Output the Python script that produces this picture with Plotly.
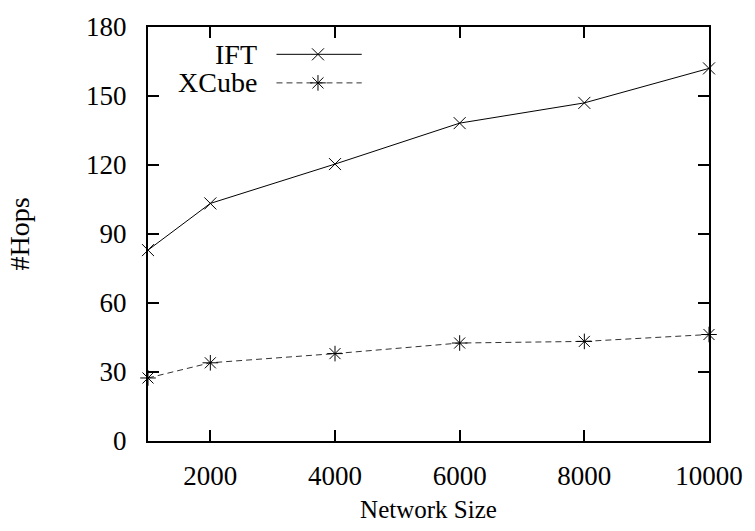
import plotly.graph_objects as go

network_size = [1000, 2000, 4000, 6000, 8000, 10000]
ift_hops = [83, 103.3, 120.4, 138.2, 147, 162]
xcube_hops = [27.4, 34, 38, 42.6, 43.3, 46.3]
x_ticks = [2000, 4000, 6000, 8000, 10000]
y_ticks = [0, 30, 60, 90, 120, 150, 180]
legend_names = ["IFT", "XCube"]

FONT = "Liberation Serif"
TICK_FS = 27
LEG_FS = 28

fig = go.Figure()
fig.add_trace(go.Scatter(
    x=network_size, y=ift_hops, mode="lines+markers", name="IFT",
    line=dict(color="black", width=1),
    marker=dict(symbol="x-thin-open", size=12, color="black", line=dict(color="black", width=1)),
    showlegend=False, cliponaxis=False))
fig.add_trace(go.Scatter(
    x=network_size, y=xcube_hops, mode="lines+markers", name="XCube",
    line=dict(color="#333333", width=1, dash="6px,4px"),
    marker=dict(symbol="asterisk-open", size=13, color="black", line=dict(color="black", width=1)),
    showlegend=False, cliponaxis=False))

# manual legend (text left, sample right) on an overlay axis
leg_y = [0.934, 0.865]
styles = [
    (dict(color="black", width=1), "x-thin-open", 12),
    (dict(color="#333333", width=1, dash="6px,4px"), "asterisk-open", 13),
]
for name, yy, (ln, sym, sz) in zip(legend_names, leg_y, styles):
    fig.add_trace(go.Scatter(
        x=[0.229, 0.381], y=[yy, yy], mode="lines", line=ln,
        xaxis="x2", yaxis="y2", showlegend=False, hoverinfo="skip"))
    fig.add_trace(go.Scatter(
        x=[0.303], y=[yy], mode="markers",
        marker=dict(symbol=sym, size=sz, color="black", line=dict(color="black", width=1)),
        xaxis="x2", yaxis="y2", showlegend=False, hoverinfo="skip"))
    fig.add_annotation(x=0.198, y=yy, xref="paper", yref="paper", text=name,
                       showarrow=False, xanchor="right", yanchor="middle",
                       font=dict(family=FONT, size=LEG_FS, color="black"))

axis_common = dict(
    showline=True, linecolor="black", linewidth=2, mirror="ticks",
    ticks="inside", ticklen=11, tickwidth=2, tickcolor="black",
    showgrid=False, zeroline=False,
    tickfont=dict(family=FONT, size=TICK_FS, color="black"),
)

fig.update_layout(
    width=755, height=531,
    margin=dict(l=148, r=46, t=23, b=87),
    paper_bgcolor="white", plot_bgcolor="white",
    xaxis=dict(range=[1000, 10000], tickvals=x_ticks, ticktext=[str(v) for v in x_ticks],
               title=dict(text="Network Size", font=dict(family=FONT, size=25, color="black"), standoff=10),
               ticklabelstandoff=10, **axis_common),
    yaxis=dict(range=[0, 180], tickvals=y_ticks, ticktext=[str(v) for v in y_ticks],
               title=dict(text="#Hops", font=dict(family=FONT, size=28, color="black"), standoff=48),
               ticklabelstandoff=14, **axis_common),
    xaxis2=dict(range=[0, 1], overlaying="x", visible=False, fixedrange=True),
    yaxis2=dict(range=[0, 1], overlaying="y", visible=False, fixedrange=True),
    showlegend=False,
)

fig.write_html("out.html")
